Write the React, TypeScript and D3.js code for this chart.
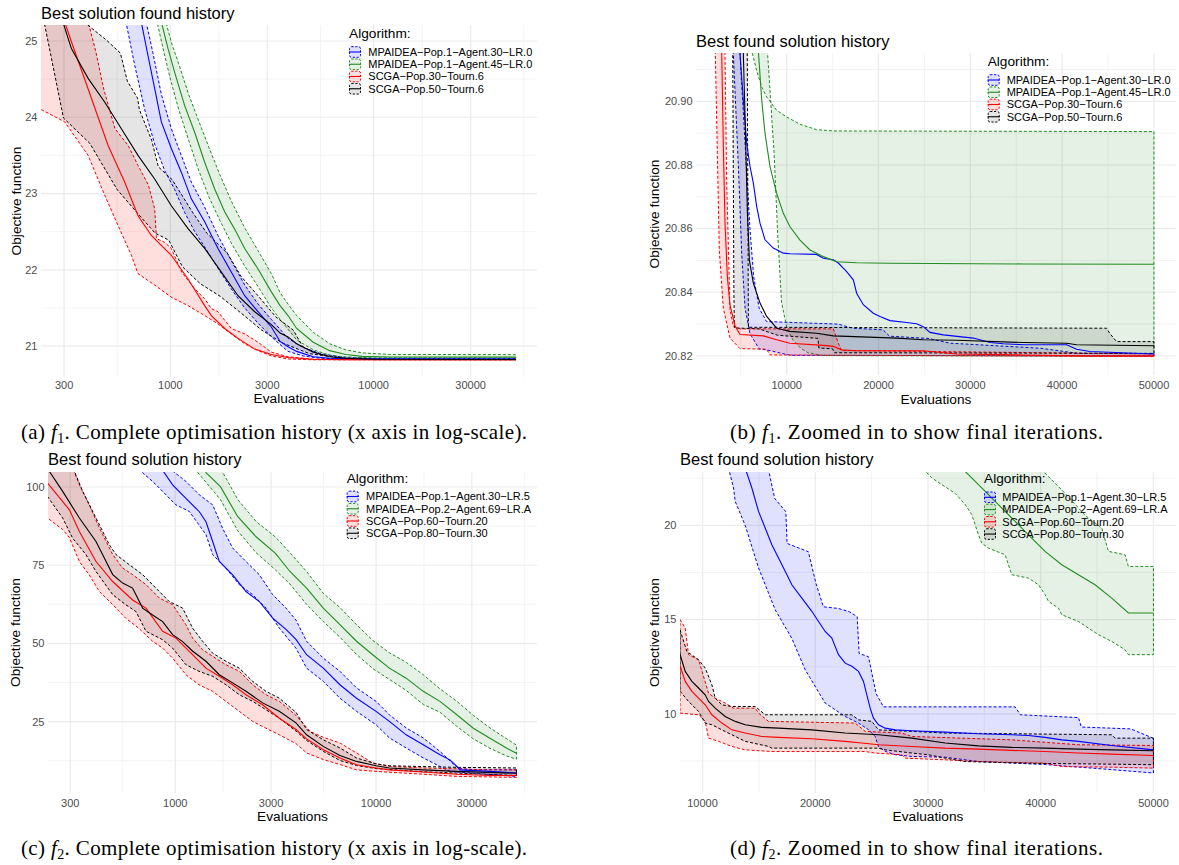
import React from "react";
import * as d3 from "d3";

type Pt = [number, number];

const COLORS = ["#0000FF", "#228B22", "#FF0000", "#000000"];
const FILL_ALPHA = [0.12, 0.12, 0.13, 0.1];
const SANS = "'Liberation Sans', Arial, Helvetica, sans-serif";
const SERIF = "'Liberation Serif', 'Times New Roman', serif";

// ---------------- legends ----------------
const legendF1 = ["MPAIDEA\u2212Pop.1\u2212Agent.30\u2212LR.0", "MPAIDEA\u2212Pop.1\u2212Agent.45\u2212LR.0", "SCGA\u2212Pop.30\u2212Tourn.6", "SCGA\u2212Pop.50\u2212Tourn.6"];
const legendF2 = ["MPAIDEA\u2212Pop.1\u2212Agent.30\u2212LR.5", "MPAIDEA\u2212Pop.2\u2212Agent.69\u2212LR.A", "SCGA\u2212Pop.60\u2212Tourn.20", "SCGA\u2212Pop.80\u2212Tourn.30"];

// ---------------- ticks ----------------
const logTicks = [300, 1000, 3000, 10000, 30000];
const logTickLabels = ["300", "1000", "3000", "10000", "30000"];
const logMinor = [164.3, 547.7, 1732, 5477, 17321, 54772];
const linTicks = [10000, 20000, 30000, 40000, 50000];
const linTickLabels = ["10000", "20000", "30000", "40000", "50000"];
const linMinor = [5000, 15000, 25000, 35000, 45000];
const aYTicks = [21, 22, 23, 24, 25];
const aYLabels = ["21", "22", "23", "24", "25"];
const aYMinor = [20.5, 21.5, 22.5, 23.5, 24.5];
const bYTicks = [20.82, 20.84, 20.86, 20.88, 20.9];
const bYLabels = ["20.82", "20.84", "20.86", "20.88", "20.90"];
const bYMinor = [20.81, 20.83, 20.85, 20.87, 20.89, 20.91];
const cYTicks = [25, 50, 75, 100];
const cYLabels = ["25", "50", "75", "100"];
const cYMinor = [12.5, 37.5, 62.5, 87.5];
const dYTicks = [10, 15, 20];
const dYLabels = ["10", "15", "20"];
const dYMinor = [7.5, 12.5, 17.5, 22.5];

// ---------------- panel (a): f1, log x ----------------
const aBlueMean: Pt[] = [[600, 26.3], [719, 25.25], [776, 24.81], [837, 24.38], [903, 23.94], [1011, 23.59], [1132, 23.28], [1268, 22.93], [1475, 22.63], [1715, 22.28], [1994, 21.97], [2321, 21.66], [2700, 21.45], [3139, 21.25], [3466, 21.06], [3793, 20.99], [4182, 20.93], [5046, 20.86], [6078, 20.84], [8000, 20.832], [50000, 20.83]];
const aBlueLo: Pt[] = [[560, 25.8], [610, 25.2], [668, 24.68], [748, 24.1], [837, 23.65], [938, 23.3], [1051, 23.05], [1177, 22.75], [1318, 22.5], [1475, 22.3], [1715, 22.02], [1994, 21.75], [2321, 21.5], [2700, 21.3], [3139, 21.12], [3793, 20.93], [4500, 20.87], [5500, 20.84], [7000, 20.83], [50000, 20.826]];
const aBlueHi: Pt[] = [[600, 27], [760, 25.25], [820, 24.85], [903, 24.3], [1011, 23.85], [1132, 23.5], [1268, 23.15], [1475, 22.82], [1715, 22.45], [1994, 22.12], [2321, 21.8], [2700, 21.55], [3139, 21.35], [3793, 21.1], [4500, 20.98], [5500, 20.9], [7000, 20.855], [10000, 20.838], [50000, 20.835]];

const aGreenMean: Pt[] = [[780, 26.2], [903, 25.25], [974, 24.9], [1050, 24.59], [1177, 24.15], [1318, 23.8], [1475, 23.41], [1652, 23.06], [1850, 22.76], [2074, 22.53], [2321, 22.28], [2700, 22.01], [3139, 21.71], [3466, 21.53], [3793, 21.4], [4182, 21.23], [5046, 21.05], [6078, 20.94], [7300, 20.89], [8790, 20.865], [12000, 20.857], [50000, 20.855]];
const aGreenLo: Pt[] = [[760, 25.9], [860, 25.25], [930, 24.85], [1000, 24.5], [1100, 24.1], [1230, 23.7], [1380, 23.3], [1550, 22.95], [1750, 22.65], [1994, 22.35], [2321, 22.05], [2700, 21.78], [3139, 21.5], [3466, 21.35], [3793, 21.22], [4182, 21.08], [5046, 20.95], [6078, 20.88], [7300, 20.855], [10000, 20.845], [50000, 20.843]];
const aGreenHi: Pt[] = [[820, 26.6], [950, 25.25], [1020, 24.95], [1100, 24.7], [1230, 24.3], [1380, 23.95], [1550, 23.6], [1750, 23.25], [1994, 22.9], [2321, 22.55], [2700, 22.25], [3139, 21.95], [3466, 21.7], [3793, 21.55], [4182, 21.4], [5046, 21.18], [6078, 21.03], [7300, 20.95], [8790, 20.91], [12000, 20.89], [50000, 20.887]];

const aRedMean: Pt[] = [[225, 25.9], [302, 25.25], [326, 24.99], [394, 24.37], [494, 23.63], [596, 23.15], [693, 22.71], [806, 22.45], [1011, 22.19], [1222, 21.88], [1475, 21.53], [1591, 21.4], [1850, 21.23], [2152, 21.1], [2600, 20.96], [3139, 20.89], [3793, 20.85], [5000, 20.826], [7000, 20.821], [50000, 20.82]];
const aRedLo: Pt[] = [[225, 24.15], [232, 24.1], [302, 23.94], [394, 23.5], [475, 22.98], [553, 22.58], [643, 22.19], [693, 21.95], [837, 21.8], [1011, 21.64], [1222, 21.53], [1475, 21.4], [1715, 21.29], [1994, 21.16], [2321, 21.03], [2700, 20.94], [3139, 20.87], [3793, 20.83], [5000, 20.82], [50000, 20.818]];
const aRedHi: Pt[] = [[225, 26.8], [394, 25.25], [430, 24.86], [470, 24.37], [534, 23.85], [620, 23.63], [693, 23.37], [780, 23.11], [837, 22.8], [854, 22.41], [937, 22.36], [1011, 22.28], [1137, 21.97], [1318, 21.75], [1475, 21.62], [1591, 21.49], [1715, 21.45], [1994, 21.23], [2321, 21.16], [2700, 21.05], [3139, 20.92], [3793, 20.86], [5000, 20.83], [8000, 20.822], [50000, 20.821]];

const aBlackMean: Pt[] = [[225, 26.0], [296, 25.25], [326, 24.9], [394, 24.51], [475, 24.2], [574, 23.85], [693, 23.5], [837, 23.19], [1011, 22.84], [1222, 22.54], [1475, 22.28], [1782, 21.97], [2152, 21.66], [2600, 21.45], [3139, 21.28], [3466, 21.17], [3793, 21.12], [4182, 21.03], [5046, 20.92], [6078, 20.86], [7300, 20.84], [10000, 20.826], [50000, 20.823]];
const aBlackLo: Pt[] = [[225, 25.8], [241, 25.21], [298, 23.99], [401, 23.66], [548, 23.05], [690, 22.74], [842, 22.48], [982, 22.39], [1146, 22.04], [1399, 21.82], [1763, 21.65], [2233, 21.43], [2810, 21.21], [3560, 21.04], [4840, 20.9], [7130, 20.84], [10000, 20.822], [50000, 20.82]];
const aBlackHi: Pt[] = [[225, 27], [392, 25.21], [486, 25.01], [568, 24.84], [615, 24.47], [690, 24.25], [704, 24.1], [809, 23.7], [873, 23.35], [1022, 23.18], [1296, 22.74], [1511, 22.48], [1904, 22.22], [2233, 21.91], [2719, 21.65], [3308, 21.38], [4023, 21.21], [4484, 20.99], [5427, 20.89], [7000, 20.84], [10000, 20.83], [50000, 20.825]];

// ---------------- panel (b): f1 zoomed, linear x ----------------
const bBlueMean: Pt[] = [[4500, 21.0], [4914, 20.9152], [5277, 20.9005], [5640, 20.8869], [6004, 20.8796], [6367, 20.8743], [6730, 20.867], [7093, 20.8617], [7638, 20.8565], [8544, 20.8539], [9633, 20.8523], [10359, 20.8521], [13263, 20.8519], [13989, 20.8507], [15078, 20.8502], [15622, 20.8492], [16530, 20.8465], [17256, 20.8439], [17619, 20.8397], [18345, 20.8361], [19434, 20.8334], [20160, 20.8324], [21249, 20.8311], [23064, 20.8305], [24153, 20.8301], [24879, 20.8292], [25605, 20.8274], [27057, 20.8266], [30324, 20.8256], [32139, 20.8242], [33591, 20.8238], [35769, 20.8235], [40488, 20.8235], [41577, 20.8221], [43029, 20.8214], [50000, 20.8206]];
const bBlueLo: Pt[] = [[3900, 20.95], [4189, 20.915], [4734, 20.88], [5104, 20.852], [5467, 20.835], [6004, 20.827], [7000, 20.8222], [7819, 20.8219], [10359, 20.8202], [50000, 20.82]];
const bBlueHi: Pt[] = [[4600, 20.95], [4914, 20.915], [5600, 20.88], [6000, 20.86], [6400, 20.845], [7000, 20.835], [7800, 20.8308], [15600, 20.83], [17200, 20.8287], [20500, 20.8282], [21200, 20.8262], [25400, 20.8255], [27800, 20.824], [37700, 20.8224], [41700, 20.8208], [50000, 20.8207]];

const bGreenMean: Pt[] = [[6000, 21.1], [6912, 20.916], [7275, 20.9005], [7638, 20.89], [8182, 20.8795], [8907, 20.8711], [9633, 20.8648], [10359, 20.8606], [11448, 20.8564], [12537, 20.8533], [13989, 20.8512], [15441, 20.8496], [17619, 20.8493], [21249, 20.8491], [35769, 20.8489], [50000, 20.8488]];
const bGreenLo: Pt[] = [[7500, 21.0], [7900, 20.916], [8628, 20.8837], [9031, 20.8575], [9445, 20.8367], [10000, 20.829], [10675, 20.825], [11500, 20.8225], [12310, 20.821], [14000, 20.8201], [50000, 20.8199]];
const bGreenHi: Pt[] = [[5800, 21.0], [6186, 20.916], [6730, 20.9097], [7275, 20.9045], [7819, 20.9014], [8907, 20.8972], [9996, 20.8951], [11448, 20.8928], [13263, 20.8911], [15078, 20.8907], [50000, 20.8905]];

const bRedMean: Pt[] = [[2400, 21.1], [2918, 20.916], [3100, 20.886], [3281, 20.862], [3535, 20.845], [3826, 20.836], [4371, 20.8295], [4914, 20.8267], [7456, 20.8263], [8907, 20.8251], [10359, 20.824], [13989, 20.8233], [15078, 20.823], [15985, 20.8219], [17619, 20.8216], [24879, 20.8216], [28509, 20.8206], [35769, 20.8203], [41577, 20.82], [50000, 20.82]];
const bRedLo: Pt[] = [[2100, 20.95], [2192, 20.92], [2446, 20.884], [2664, 20.853], [3100, 20.835], [3826, 20.8256], [4914, 20.8223], [7800, 20.8221], [8200, 20.8203], [50000, 20.8198]];
const bRedHi: Pt[] = [[2800, 21.2], [3281, 20.915], [3463, 20.875], [3826, 20.8345], [4189, 20.8294], [4914, 20.8285], [15078, 20.8285], [15622, 20.824], [15985, 20.8217], [50000, 20.8206]];

const bBlackMean: Pt[] = [[5000, 21.0], [5277, 20.915], [5467, 20.895], [5720, 20.865], [5938, 20.85], [6367, 20.8429], [7093, 20.8366], [7819, 20.8324], [8907, 20.8287], [10359, 20.8277], [13263, 20.8271], [15078, 20.8263], [21975, 20.8256], [24879, 20.8251], [28509, 20.8249], [35769, 20.8242], [40488, 20.824], [41577, 20.8235], [50000, 20.8232]];
const bBlackLo: Pt[] = [[4100, 20.93], [4250, 20.84], [4300, 20.8288], [7000, 20.8285], [9000, 20.8265], [13400, 20.8255], [13500, 20.8225], [15000, 20.8222], [15200, 20.821], [50000, 20.8208]];
const bBlackHi: Pt[] = [[5500, 21.0], [5700, 20.92], [5830, 20.829], [44844, 20.8287], [45200, 20.827], [45933, 20.8245], [50000, 20.8245]];

// ---------------- panel (c): f2, log x ----------------
const cBlueMean: Pt[] = [[700, 112], [849, 106.1], [970, 100.7], [1130, 96.4], [1318, 92.1], [1422, 88.9], [1535, 82.6], [1657, 76.2], [1931, 71.9], [2250, 66.6], [2620, 63.4], [3056, 58.1], [3560, 54.5], [3990, 51.3], [4508, 46.4], [5460, 42.1], [6607, 36.8], [7990, 32.5], [10000, 28.3], [11650, 25.1], [14120, 20.8], [17180, 17.6], [20800, 14.4], [23330, 12.8], [25250, 10.7], [26180, 9.6], [36900, 9.1], [50000, 8.6]];
const cBlueLo: Pt[] = [[600, 112], [688, 104.5], [771, 101.8], [900, 97.5], [1007, 94.3], [1174, 92.2], [1422, 84.8], [1535, 78.4], [1787, 74.1], [2084, 68.8], [2427, 65.6], [2831, 61.3], [3296, 54.9], [3990, 48.5], [4508, 42.1], [5460, 37.9], [6607, 32.5], [7990, 28.3], [10000, 24.0], [11650, 19.8], [14120, 16.6], [17180, 13.4], [20800, 10.7], [23330, 9.1], [25250, 8.9], [50000, 7.5]];
const cBlueHi: Pt[] = [[760, 112], [933, 106], [1130, 101.8], [1318, 97.5], [1535, 94.3], [1718, 86.9], [1931, 80.5], [2250, 76.2], [2620, 72.0], [3056, 65.6], [3560, 61.3], [3990, 57.5], [4508, 50.7], [5460, 45.3], [6607, 41.1], [7990, 35.8], [10000, 31.5], [11650, 27.2], [14120, 23.0], [17180, 19.8], [20800, 15.5], [23330, 12.5], [24500, 11.2], [26000, 10.0], [30000, 9.7], [50000, 9.6]];

const cGreenMean: Pt[] = [[1200, 112], [1431, 104.4], [1679, 100.1], [2048, 90.5], [2526, 84.1], [3156, 78.8], [3724, 73.0], [4508, 67.7], [5460, 61.3], [6607, 56.0], [7990, 50.7], [9620, 46.4], [11650, 42.1], [14120, 38.9], [17180, 34.7], [20800, 31.5], [25250, 27.2], [30500, 22.9], [36900, 19.7], [44800, 16.5], [50000, 14.9]];
const cGreenLo: Pt[] = [[1100, 112], [1300, 104.5], [1679, 96], [2048, 86], [2526, 79], [3156, 73.5], [3724, 69], [4508, 62.5], [5460, 57], [6607, 52], [7990, 46.5], [9620, 42], [11650, 38.5], [14120, 35], [17180, 30.5], [20800, 28], [25250, 23.5], [30500, 19.5], [36900, 16.5], [44800, 14], [50000, 13]];
const cGreenHi: Pt[] = [[1300, 112], [1730, 104.5], [2048, 96], [2526, 89], [3156, 84], [3724, 79], [4508, 73], [5460, 66], [6607, 61.5], [7990, 56], [9620, 51], [11650, 47], [14120, 44], [17180, 40], [20800, 35.5], [25250, 31.5], [30500, 27], [36900, 23], [44800, 19.5], [50000, 17.5]];

const cRedMean: Pt[] = [[225, 102], [231, 101.3], [297, 92.7], [333, 85.8], [403, 76.2], [488, 69.8], [613, 63.9], [715, 61.3], [865, 53.9], [1007, 51.7], [1174, 47.5], [1422, 42.1], [1657, 39.5], [1931, 36.8], [2250, 33.6], [2723, 30.4], [3296, 26.1], [3990, 22.5], [4508, 19.5], [5460, 16.0], [6607, 13.4], [7990, 11.2], [10000, 10.2], [11650, 9.6], [17180, 8.9], [25250, 8.2], [36900, 7.8], [50000, 7.8]];
const cRedLo: Pt[] = [[225, 90.3], [231, 90.1], [275, 86.4], [297, 83.8], [333, 76.2], [373, 71.9], [419, 66.6], [488, 62.4], [566, 58.1], [657, 54.9], [771, 50.7], [865, 48.5], [970, 45.3], [1130, 40.0], [1312, 36.8], [1535, 34.7], [1787, 31.5], [2084, 28.3], [2427, 25.1], [2831, 22.9], [3296, 20.8], [3990, 18.0], [4508, 15.0], [5460, 12.9], [6607, 11.3], [7990, 9.6], [10000, 9.1], [17180, 8.2], [25250, 7.5], [50000, 7.2]];
const cRedHi: Pt[] = [[225, 112], [308, 106.1], [333, 100.7], [373, 94.3], [419, 86.9], [488, 78.4], [547, 74.1], [613, 72.0], [715, 68.8], [833, 64.5], [970, 62.4], [1130, 56.0], [1220, 51.7], [1368, 48.0], [1535, 45.9], [1787, 43.2], [2084, 41.1], [2427, 36.8], [2831, 33.6], [3296, 31.5], [3990, 27.0], [4693, 21.9], [5460, 20.0], [6607, 18.2], [7990, 15.0], [9620, 11.8], [11650, 10.7], [17180, 10.2], [36900, 9.6], [50000, 9.6]];

const cBlackMean: Pt[] = [[225, 106], [236, 105.0], [275, 98.6], [333, 90.1], [403, 82.6], [488, 72.0], [547, 69.3], [613, 67.7], [688, 61.3], [771, 59.1], [865, 57.0], [970, 52.8], [1088, 50.6], [1222, 47.5], [1422, 44.3], [1657, 40.0], [1931, 37.4], [2250, 34.7], [2723, 31.0], [3296, 28.3], [3990, 24.6], [4508, 20.8], [5460, 17.1], [6607, 14.2], [7990, 12.3], [10000, 10.9], [11650, 10.2], [17180, 9.6], [25250, 9.1], [50000, 8.5]];
const cBlackLo: Pt[] = [[225, 97.5], [231, 97.0], [275, 90.1], [308, 83.7], [359, 78.4], [403, 73.0], [488, 65.6], [566, 62.4], [637, 60.2], [715, 53.9], [865, 51.2], [970, 48.5], [1130, 43.2], [1312, 41.1], [1535, 39.5], [1787, 36.8], [2084, 33.6], [2427, 31.5], [2831, 28.8], [3296, 26.1], [3990, 22.0], [4508, 19.0], [5460, 15.5], [6607, 12.6], [7990, 11.0], [10000, 10.0], [17180, 9.0], [50000, 7.8]];
const cBlackHi: Pt[] = [[225, 115], [308, 106.5], [346, 98.6], [403, 90.1], [469, 81.6], [507, 78.4], [590, 75.2], [688, 72.0], [801, 67.7], [933, 63.4], [1088, 61.3], [1220, 54.9], [1368, 50.7], [1535, 46.9], [1787, 44.3], [2084, 42.1], [2427, 37.9], [2831, 34.7], [3296, 32.5], [3990, 28.0], [4508, 22.5], [5460, 19.2], [6607, 16.6], [7990, 13.4], [10000, 11.5], [11650, 10.9], [25250, 10.4], [50000, 10.2]];

// ---------------- panel (d): f2 zoomed, linear x ----------------
const dBlueMean: Pt[] = [[12000, 30], [13784, 23.04], [14375, 21.98], [14966, 20.74], [15557, 19.86], [16148, 18.97], [16740, 18.27], [17331, 17.56], [17922, 16.85], [18809, 16.14], [19696, 15.44], [20287, 14.9], [20878, 14.37], [21469, 14.02], [22060, 13.14], [22652, 12.69], [23243, 12.52], [23834, 12.25], [24277, 11.72], [24573, 11.01], [24869, 10.3], [25164, 9.77], [25608, 9.42], [26199, 9.24], [27086, 9.15], [28564, 9.1], [31520, 9.03], [34476, 8.94], [37432, 8.89], [38910, 8.85], [40388, 8.75], [41866, 8.62], [43344, 8.54], [46300, 8.32], [50000, 8.09]];
const dBlueLo: Pt[] = [[11000, 30], [12306, 23.04], [12749, 21.98], [12897, 21.27], [13784, 20.0], [14966, 17.74], [16444, 15.52], [17922, 14.0], [19104, 12.34], [20878, 10.57], [22652, 9.86], [23834, 9.51], [24721, 9.16], [25312, 8.8], [25608, 8.27], [26199, 8.01], [27086, 7.83], [28564, 7.74], [31520, 7.7], [34476, 7.47], [40388, 7.31], [46300, 7.04], [50000, 6.86]];
const dBlueHi: Pt[] = [[14000, 26], [15890, 22.85], [16400, 21.43], [17390, 20.72], [17500, 19.04], [19390, 18.6], [20060, 16.92], [20720, 15.68], [22050, 15.59], [23050, 15.41], [23720, 15.15], [23890, 13.2], [24720, 13.03], [25390, 11.08], [26050, 10.37], [37720, 10.37], [38200, 9.95], [43350, 9.8], [43600, 9.3], [48000, 9.2], [50000, 8.7]];

const dGreenMean: Pt[] = [[29000, 30], [32998, 23.04], [34476, 22.16], [35954, 21.27], [37432, 20.39], [38910, 19.5], [40388, 18.62], [41866, 17.91], [43344, 17.38], [44822, 16.85], [46300, 16.14], [47778, 15.35], [50000, 15.35]];
const dGreenLo: Pt[] = [[28000, 26], [29746, 22.88], [30337, 22.52], [31224, 22.16], [32406, 21.7], [33293, 21.11], [33884, 20.57], [34476, 19.5], [34771, 19.06], [35362, 18.79], [36840, 18.44], [37136, 17.91], [37432, 17.38], [38910, 17.2], [39797, 16.85], [40388, 16.32], [40684, 15.97], [41570, 15.61], [41866, 15.26], [43344, 14.9], [44231, 14.55], [45118, 14.2], [46300, 13.84], [47482, 13.4], [47778, 13.14], [50000, 13.14]];
const dGreenHi: Pt[] = [[36000, 30], [40000, 23.0], [42000, 21.8], [44000, 20.5], [45413, 19.86], [46004, 18.62], [47482, 18.44], [47777, 17.82], [50000, 17.82]];

const dRedMean: Pt[] = [[8000, 12.55], [8463, 11.72], [9054, 11.19], [9645, 10.83], [10236, 10.48], [10828, 9.95], [11714, 9.51], [12601, 9.15], [13784, 8.98], [15262, 8.8], [16740, 8.75], [19696, 8.68], [22652, 8.54], [24130, 8.45], [25608, 8.36], [28564, 8.27], [31520, 8.18], [34476, 8.13], [37432, 8.06], [40388, 8.0], [43344, 7.92], [46300, 7.86], [50000, 7.79]];
const dRedLo: Pt[] = [[8000, 10.04], [9645, 9.95], [10236, 9.6], [10532, 8.71], [11419, 8.54], [12601, 8.27], [13784, 8.09], [16148, 8.0], [24425, 8.0], [25312, 7.92], [27677, 7.83], [27973, 7.65], [31520, 7.56], [34476, 7.47], [40388, 7.38], [41866, 7.2], [46300, 7.17], [50000, 7.12]];
const dRedHi: Pt[] = [[8000, 15.0], [8463, 14.55], [8758, 13.14], [9645, 12.87], [10532, 11.1], [11123, 10.83], [12010, 10.57], [12749, 10.3], [14671, 10.3], [14966, 10.04], [15853, 9.6], [23538, 9.51], [24425, 9.07], [27677, 8.98], [28564, 8.8], [37432, 8.62], [43344, 8.36], [50000, 8.32]];

const dBlackMean: Pt[] = [[8000, 13.16], [8463, 12.25], [9054, 11.72], [9645, 11.37], [10236, 11.01], [10532, 10.66], [11123, 10.3], [12010, 9.86], [12897, 9.6], [13784, 9.42], [15262, 9.28], [16740, 9.24], [19696, 9.15], [22652, 8.98], [25608, 8.89], [28564, 8.71], [31520, 8.45], [34476, 8.3], [37432, 8.22], [40388, 8.18], [43344, 8.13], [46300, 8.09], [50000, 8.04]];
const dBlackLo: Pt[] = [[8000, 11.2], [8758, 10.66], [9645, 10.13], [10236, 9.51], [10828, 9.42], [11714, 9.15], [12601, 8.89], [13784, 8.54], [15853, 8.27], [16148, 8.18], [25608, 8.18], [26199, 8.09], [28564, 7.92], [30042, 7.83], [31520, 7.65], [33293, 7.47], [38910, 7.38], [46300, 7.33], [50000, 7.3]];
const dBlackHi: Pt[] = [[8000, 14.46], [8611, 13.31], [9645, 12.87], [10236, 12.43], [10828, 11.54], [11123, 10.83], [11714, 10.48], [12601, 10.39], [14671, 10.39], [15557, 9.95], [23243, 9.95], [23834, 9.68], [25016, 9.6], [25608, 9.15], [28564, 9.07], [31520, 8.98], [46300, 8.89], [46595, 8.71], [50000, 8.71]];

// ---------------- panel definitions ----------------
interface Band { mean: Pt[]; lo: Pt[]; hi: Pt[] }
interface PanelSpec {
  id: string;
  l: number; r: number; t: number; b: number;
  xLog: boolean;
  xDomain: [number, number];
  yDomain: [number, number];
  xTicks: number[]; xLabels: string[]; xMinor: number[];
  yTicks: number[]; yLabels: string[]; yMinor: number[];
  title: string; titleBase: number;
  xTickBase: number; xTitleBase: number; yTitleX: number;
  legX: number; legTitleBase: number; legRow0: number; legTextX: number;
  names: string[];
  bands: Band[];
}

const panels: PanelSpec[] = [
  {
    id: "a", l: 41, r: 537, t: 25, b: 377, xLog: true,
    xDomain: [231, 63640], yDomain: [20.594, 25.21],
    xTicks: logTicks, xLabels: logTickLabels, xMinor: logMinor,
    yTicks: aYTicks, yLabels: aYLabels, yMinor: aYMinor,
    title: "Best solution found history", titleBase: 18.5,
    xTickBase: 389, xTitleBase: 403, yTitleX: 16,
    legX: 349, legTitleBase: 37.5, legRow0: 52, legTextX: 368.3,
    names: legendF1,
    bands: [
      { mean: aBlueMean, lo: aBlueLo, hi: aBlueHi },
      { mean: aGreenMean, lo: aGreenLo, hi: aGreenHi },
      { mean: aRedMean, lo: aRedLo, hi: aRedHi },
      { mean: aBlackMean, lo: aBlackLo, hi: aBlackHi },
    ],
  },
  {
    id: "b", l: 696, r: 1176, t: 53, b: 375, xLog: false,
    xDomain: [123, 52400], yDomain: [20.814, 20.9152],
    xTicks: linTicks, xLabels: linTickLabels, xMinor: linMinor,
    yTicks: bYTicks, yLabels: bYLabels, yMinor: bYMinor,
    title: "Best found solution history", titleBase: 47,
    xTickBase: 389, xTitleBase: 404, yTitleX: 654,
    legX: 987.7, legTitleBase: 65.5, legRow0: 80, legTextX: 1006.7,
    names: legendF1,
    bands: [
      { mean: bBlueMean, lo: bBlueLo, hi: bBlueHi },
      { mean: bGreenMean, lo: bGreenLo, hi: bGreenHi },
      { mean: bRedMean, lo: bRedLo, hi: bRedHi },
      { mean: bBlackMean, lo: bBlackLo, hi: bBlackHi },
    ],
  },
  {
    id: "c", l: 48, r: 537, t: 472, b: 793, xLog: true,
    xDomain: [232.4, 63300], yDomain: [2.2, 104.8],
    xTicks: logTicks, xLabels: logTickLabels, xMinor: logMinor,
    yTicks: cYTicks, yLabels: cYLabels, yMinor: cYMinor,
    title: "Best found solution history", titleBase: 465,
    xTickBase: 807, xTitleBase: 821, yTitleX: 15.5,
    legX: 346.7, legTitleBase: 483, legRow0: 496.5, legTextX: 366,
    names: legendF2,
    bands: [
      { mean: cBlueMean, lo: cBlueLo, hi: cBlueHi },
      { mean: cGreenMean, lo: cGreenLo, hi: cGreenHi },
      { mean: cRedMean, lo: cRedLo, hi: cRedHi },
      { mean: cBlackMean, lo: cBlackLo, hi: cBlackHi },
    ],
  },
  {
    id: "d", l: 680, r: 1176, t: 472, b: 793, xLog: false,
    xDomain: [8000, 52000], yDomain: [5.8, 22.83],
    xTicks: linTicks, xLabels: linTickLabels, xMinor: linMinor,
    yTicks: dYTicks, yLabels: dYLabels, yMinor: dYMinor,
    title: "Best found solution history", titleBase: 465,
    xTickBase: 807, xTitleBase: 821, yTitleX: 654,
    legX: 984, legTitleBase: 482.5, legRow0: 497.3, legTextX: 1002.3,
    names: legendF2,
    bands: [
      { mean: dBlueMean, lo: dBlueLo, hi: dBlueHi },
      { mean: dGreenMean, lo: dGreenLo, hi: dGreenHi },
      { mean: dRedMean, lo: dRedLo, hi: dRedHi },
      { mean: dBlackMean, lo: dBlackLo, hi: dBlackHi },
    ],
  },
];

function Panel({ s }: { s: PanelSpec }) {
  const { l, r, t, b } = s;
  const xs: any = s.xLog
    ? d3.scaleLog().domain(s.xDomain).range([l, r])
    : d3.scaleLinear().domain(s.xDomain).range([l, r]);
  const ys = d3.scaleLinear().domain(s.yDomain).range([b, t]);
  const line = d3.line<Pt>().x((d) => xs(d[0])).y((d) => ys(d[1]));
  const inX = (v: number) => v >= s.xDomain[0] && v <= s.xDomain[1];
  const inY = (v: number) => v >= s.yDomain[0] && v <= s.yDomain[1];
  const clipId = `clip-${s.id}`;
  const grid = "#EBEBEB";
  return (
    <g>
      <defs>
        <clipPath id={clipId}>
          <rect x={l} y={t} width={r - l} height={b - t} />
        </clipPath>
      </defs>
      {s.xMinor.filter(inX).map((v) => (
        <line key={"xm" + v} x1={xs(v)} x2={xs(v)} y1={t} y2={b} stroke={grid} strokeWidth={0.6} />
      ))}
      {s.yMinor.filter(inY).map((v) => (
        <line key={"ym" + v} x1={l} x2={r} y1={ys(v)} y2={ys(v)} stroke={grid} strokeWidth={0.6} />
      ))}
      {s.xTicks.filter(inX).map((v) => (
        <line key={"xM" + v} x1={xs(v)} x2={xs(v)} y1={t} y2={b} stroke={grid} strokeWidth={1.2} />
      ))}
      {s.yTicks.filter(inY).map((v) => (
        <line key={"yM" + v} x1={l} x2={r} y1={ys(v)} y2={ys(v)} stroke={grid} strokeWidth={1.2} />
      ))}
      <g clipPath={`url(#${clipId})`}>
        {s.bands.map((bd, i) => (
          <path
            key={"band" + i}
            d={line([...bd.hi, ...bd.lo.slice().reverse()]) + "Z"}
            fill={COLORS[i]}
            fillOpacity={FILL_ALPHA[i]}
            stroke={COLORS[i]}
            strokeWidth={1}
            strokeDasharray="3 2"
          />
        ))}
        {s.bands.map((bd, i) => (
          <path key={"mean" + i} d={line(bd.mean) || ""} fill="none" stroke={COLORS[i]} strokeWidth={1.1} />
        ))}
      </g>
      {/* title */}
      <text x={l} y={s.titleBase} fontFamily={SANS} fontSize={16.5} fill="#000">{s.title}</text>
      {/* tick labels */}
      {s.xTicks.map((v, i) =>
        inX(v) ? (
          <text key={"xl" + v} x={xs(v)} y={s.xTickBase} textAnchor="middle" fontFamily={SANS} fontSize={11} fill="#4D4D4D">
            {s.xLabels[i]}
          </text>
        ) : null
      )}
      {s.yTicks.map((v, i) =>
        inY(v) ? (
          <text key={"yl" + v} x={l - 3.5} y={ys(v)} dy="0.35em" textAnchor="end" fontFamily={SANS} fontSize={11} fill="#4D4D4D">
            {s.yLabels[i]}
          </text>
        ) : null
      )}
      {/* axis titles */}
      <text x={(l + r) / 2} y={s.xTitleBase} textAnchor="middle" fontFamily={SANS} fontSize={13.7} fill="#000">Evaluations</text>
      <text
        transform={`translate(${s.yTitleX},${(t + b) / 2}) rotate(-90)`}
        textAnchor="middle"
        dominantBaseline="central"
        fontFamily={SANS}
        fontSize={13.7}
        fill="#000"
      >
        Objective function
      </text>
      {/* legend */}
      <text x={s.legX} y={s.legTitleBase} fontFamily={SANS} fontSize={13.7} fill="#000">Algorithm:</text>
      {s.names.map((name, i) => {
        const cy = s.legRow0 + i * 12.25;
        return (
          <g key={"leg" + i}>
            <rect
              x={s.legX + 0.5}
              y={cy - 5.3}
              width={11}
              height={10.6}
              rx={2}
              fill={COLORS[i]}
              fillOpacity={FILL_ALPHA[i]}
              stroke={COLORS[i]}
              strokeWidth={1}
              strokeDasharray="2.2 1.6"
            />
            <line x1={s.legX} x2={s.legX + 12} y1={cy} y2={cy} stroke={COLORS[i]} strokeWidth={1.1} />
            <text x={s.legTextX} y={cy + 3.9} fontFamily={SANS} fontSize={11} fill="#000">{name}</text>
          </g>
        );
      })}
    </g>
  );
}

interface CaptionSpec { x: number; base: number; width: number; tag: string; sub: string; rest: string }
const captions: CaptionSpec[] = [
  { x: 21, base: 439, width: 506, tag: "(a) ", sub: "1", rest: ". Complete optimisation history (x axis in log-scale)." },
  { x: 730, base: 439, width: 373, tag: "(b) ", sub: "1", rest: ". Zoomed in to show final iterations." },
  { x: 21, base: 855, width: 506, tag: "(c) ", sub: "2", rest: ". Complete optimisation history (x axis in log-scale)." },
  { x: 730, base: 855, width: 373, tag: "(d) ", sub: "2", rest: ". Zoomed in to show final iterations." },
];

export default function App() {
  return (
    <svg
      width={1179}
      height={865}
      viewBox="0 0 1179 865"
      style={{ position: "absolute", left: 0, top: 0, background: "#fff", display: "block" }}
    >
      <rect x={0} y={0} width={1179} height={865} fill="#fff" />
      {panels.map((p) => (
        <Panel key={p.id} s={p} />
      ))}
      {captions.map((c, i) => (
        <text
          key={"cap" + i}
          x={c.x}
          y={c.base}
          fontFamily={SERIF}
          fontSize={21}
          fill="#000"
          textLength={c.width}
          lengthAdjust="spacing"
        >
          {c.tag}
          <tspan fontStyle="italic">f</tspan>
          <tspan fontSize={14} dy={4}>{c.sub}</tspan>
          <tspan dy={-4}>{c.rest}</tspan>
        </text>
      ))}
    </svg>
  );
}
